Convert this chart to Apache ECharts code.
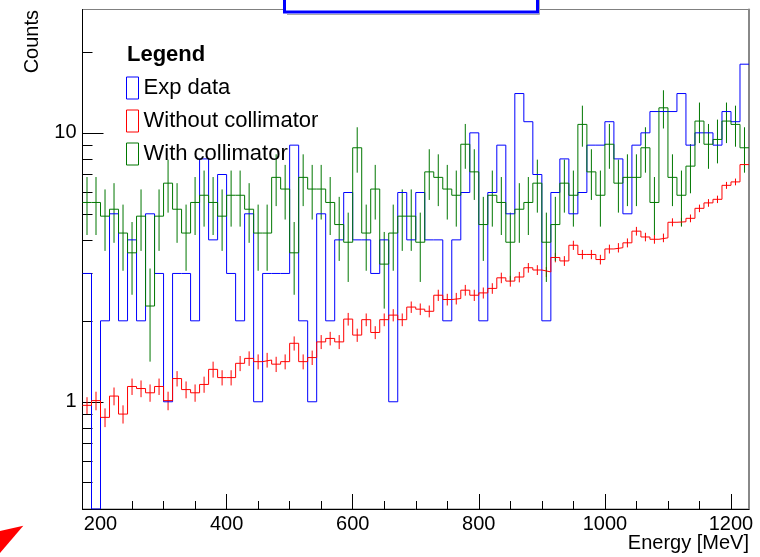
<!DOCTYPE html>
<html>
<head>
<meta charset="utf-8">
<script src="https://cdn.jsdelivr.net/npm/echarts@6/dist/echarts.min.js"></script>
<style>
  html, body { margin: 0; padding: 0; background: #fff; }
  #energy-hist { width: 760px; height: 557px; }
</style>
</head>
<body>
<div id="energy-hist"></div>
<script>
// binning of the histograms (MeV), first visible bin starts at 171.4
const binWidth = 100 / 7
const firstEdge = 12 * binWidth
const nBins = 74
const yMin = 0.3993
const yMax = 28.75

const xTickLabels = [200, 400, 600, 800, 1000, 1200]
const xMinorTicks = [250, 300, 350, 450, 500, 550, 650, 700, 750, 850, 900, 950, 1050, 1100, 1150]
const yTickLabels = [1, 10]
const yMinorTicks = [0.4, 0.5, 0.6, 0.7, 0.8, 0.9, 2, 3, 4, 5, 6, 7, 8, 9, 20]

const expData = [3,0,2,5,2,4,2,5,3,1, 3,3,2,8,4,7,3,2,5,1, 3,3,3,9,2,1,5,2,4,6,
  4,4,3,4,1,6,4,6,4,4, 2,4,6,10,2,6,9,5,14,11, 7,2,6,8,5,6,9,9,11,8,
  5,9,10,12,12,12,14,9,10,10, 9,12,11,18]

const withoutColl = [0.97,1.01,0.875,1.05,0.90,1.14,1.12,1.08,1.14,1.01,
  1.22,1.11,1.08,1.16,1.32,1.23,1.23,1.39,1.45,1.41,
  1.43,1.38,1.41,1.65,1.41,1.46,1.67,1.72,1.67,2.03,
  1.77,2.02,1.81,2.02,2.10,2.02,2.25,2.21,2.17,2.49,
  2.40,2.42,2.60,2.49,2.54,2.64,2.89,2.81,2.91,3.15,
  3.09,3.04,3.44,3.34,3.82,3.53,3.53,3.38,3.70,3.74,
  3.90,4.31,4.10,4.02,4.07,4.65,4.67,4.81,5.24,5.49,
  5.66,6.38,6.57,7.62]
const withoutCollErr = [0.07,0.08,0.07,0.08,0.07,0.08,0.08,0.08,0.08,0.08,
  0.08,0.08,0.08,0.08,0.09,0.08,0.08,0.09,0.09,0.09,
  0.09,0.09,0.09,0.10,0.09,0.09,0.10,0.10,0.10,0.11,
  0.10,0.11,0.10,0.11,0.11,0.11,0.11,0.11,0.11,0.12,
  0.12,0.12,0.12,0.12,0.12,0.12,0.13,0.13,0.13,0.13,
  0.13,0.13,0.14,0.14,0.15,0.14,0.14,0.14,0.14,0.15,
  0.15,0.16,0.15,0.15,0.15,0.16,0.16,0.16,0.17,0.18,
  0.18,0.19,0.19,0.21]

const withColl = [5.51,5.51,4.90,5.20,4.24,3.58,4.90,2.27,4.90,6.50,
  5.20,4.24,5.51,5.86,5.51,4.90,5.86,5.86,5.20,4.24,
  4.24,6.83,6.18,3.58,6.83,6.18,6.18,5.51,4.56,3.92,
  8.80,4.24,6.18,3.25,4.24,4.90,4.90,3.92,7.16,6.83,
  6.18,5.86,9.07,7.16,4.56,5.86,5.51,3.92,5.20,5.51,
  6.50,3.92,4.56,6.50,5.86,10.75,7.16,5.86,9.07,6.50,
  6.83,6.83,8.80,5.51,12.39,6.83,5.86,7.52,11.06,9.07,
  9.45,11.06,10.75,8.80]
const withCollErr = [1.34,1.34,1.26,1.30,1.17,1.08,1.26,0.86,1.26,1.45,
  1.30,1.17,1.34,1.38,1.34,1.26,1.38,1.38,1.30,1.17,
  1.17,1.49,1.42,1.08,1.49,1.42,1.42,1.34,1.22,1.13,
  1.69,1.17,1.42,1.03,1.17,1.26,1.26,1.13,1.53,1.49,
  1.42,1.38,1.72,1.53,1.22,1.38,1.34,1.13,1.30,1.34,
  1.45,1.13,1.22,1.45,1.38,1.87,1.53,1.38,1.72,1.45,
  1.49,1.49,1.69,1.34,2.01,1.49,1.38,1.56,1.90,1.72,
  1.75,1.90,1.87,1.69]

const font = '"Liberation Sans", Arial, Helvetica, sans-serif'
const blue = '#0000ff', red = '#ff0000', green = '#007700'

// histogram outline: two points per bin, empty bins go to the bottom of the frame
function stepLine(vals){
  const pts = []
  vals.forEach((v, i) => {
    const y = Math.max(v, yMin)
    pts.push([firstEdge + i * binWidth, y], [firstEdge + (i + 1) * binWidth, y])
  })
  return pts
}
function errPoints(vals, errs){
  return vals.map((v, i) => [firstEdge + (i + 0.5) * binWidth, v, errs[i]])
}
function errBar(color){
  return function(params, api){
    const x = api.value(0), v = api.value(1), e = api.value(2)
    const lo = api.coord([x, Math.max(v - e, yMin)])
    const hi = api.coord([x, v + e])
    return {type: 'line', shape: {x1: lo[0], y1: lo[1], x2: hi[0], y2: hi[1]},
      style: {stroke: color, lineWidth: 1}}
  }
}
function histSeries(name, vals, color){
  return {name: name, type: 'line', data: stepLine(vals), showSymbol: false, symbol: 'none',
    lineStyle: {color: color, width: 1}, itemStyle: {color: color}, clip: true, z: 3}
}
function errSeries(name, vals, errs, color){
  return {name: name, type: 'custom', data: errPoints(vals, errs), renderItem: errBar(color),
    encode: {x: 0, y: 1}, clip: true, z: 3}
}

const myChart = echarts.init(document.getElementById('energy-hist'))
myChart.setOption({
  animation: false,
  backgroundColor: '#fff',
  textStyle: {fontFamily: font},
  grid: {left: 82.5, top: 9.5, width: 666.5, height: 499.5, show: true,
    borderColor: '#808080', borderWidth: 1, containLabel: false},
  legend: {
    left: 121, top: 71.5, orient: 'vertical', itemWidth: 12, itemHeight: 22, itemGap: 10,
    textStyle: {fontSize: 22, color: '#000', fontFamily: font},
    data: [
      {name: 'Exp data', icon: 'rect', itemStyle: {color: 'rgba(0,0,0,0)', borderColor: blue, borderWidth: 1}},
      {name: 'Without collimator', icon: 'rect', itemStyle: {color: 'rgba(0,0,0,0)', borderColor: red, borderWidth: 1}},
      {name: 'With collimator', icon: 'rect', itemStyle: {color: 'rgba(0,0,0,0)', borderColor: green, borderWidth: 1}}
    ]
  },
  xAxis: [{
    type: 'value', position: 'bottom', min: firstEdge, max: firstEdge + nBins * binWidth,
    axisLine: {show: true, onZero: false, lineStyle: {color: '#000', width: 1}},
    axisTick: {show: true, inside: true, length: 15, customValues: xTickLabels, lineStyle: {color: '#000'}},
    axisLabel: {customValues: xTickLabels, fontSize: 20, color: '#000', margin: 5, fontFamily: font,
      formatter: v => String(v)},
    splitLine: {show: false}
  }, {
    type: 'value', position: 'bottom', min: firstEdge, max: firstEdge + nBins * binWidth,
    axisLine: {show: false, onZero: false},
    axisTick: {show: true, inside: true, length: 8, customValues: xMinorTicks, lineStyle: {color: '#000'}},
    axisLabel: {show: false},
    splitLine: {show: false}
  }],
  yAxis: [{
    type: 'log', position: 'left', min: yMin, max: yMax,
    axisLine: {show: true, onZero: false, lineStyle: {color: '#000', width: 1}},
    axisTick: {show: true, inside: true, length: 21, customValues: yTickLabels, lineStyle: {color: '#000'}},
    axisLabel: {customValues: yTickLabels, fontSize: 20, color: '#000', margin: 6, fontFamily: font,
      formatter: v => String(v)},
    splitLine: {show: false}
  }, {
    type: 'log', position: 'left', min: yMin, max: yMax,
    axisLine: {show: false, onZero: false},
    axisTick: {show: true, inside: true, length: 10, customValues: yMinorTicks, lineStyle: {color: '#000'}},
    axisLabel: {show: false},
    splitLine: {show: false}
  }, {
    type: 'value', position: 'right', min: 0, max: 1,
    axisLine: {show: true, onZero: false, lineStyle: {color: '#888', width: 2}},
    axisTick: {show: false}, axisLabel: {show: false}, splitLine: {show: false}
  }],
  series: [
    histSeries('Exp data', expData, blue),
    histSeries('Without collimator', withoutColl, red),
    errSeries('errWithout', withoutColl, withoutCollErr, red),
    histSeries('With collimator', withColl, green),
    errSeries('errWith', withColl, withCollErr, green)
  ],
  graphic: [
    {type: 'polyline', shape: {points: [[287, 14.5], [539.5, 14.5], [539.5, 0]]},
      style: {stroke: '#aaa', lineWidth: 1, fill: null}, z: 99},
    {type: 'rect', shape: {x: 284.5, y: -20, width: 253, height: 32},
      style: {fill: '#fff', stroke: blue, lineWidth: 3}, z: 100},
    {type: 'polygon', shape: {points: [[23.3, 525.7], [0, 531], [0, 553]]},
      style: {fill: '#ff0000'}, z: 100},
    {type: 'text', x: 127, y: 54.5,
      style: {text: 'Legend', fontSize: 22, fontWeight: 'bold', fontFamily: font, fill: '#000',
        align: 'left', verticalAlign: 'middle'}, z: 100},
    {type: 'text', x: 32.5, y: 10, rotation: Math.PI / 2,
      style: {text: 'Counts', fontSize: 20, fontFamily: font, fill: '#000',
        align: 'right', verticalAlign: 'middle'}, z: 100},
    {type: 'text', x: 749, y: 543,
      style: {text: 'Energy [MeV]', fontSize: 20, fontFamily: font, fill: '#000',
        align: 'right', verticalAlign: 'middle'}, z: 100}
  ]
})
</script>
</body>
</html>
